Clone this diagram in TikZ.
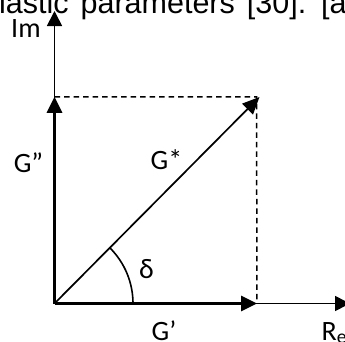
\documentclass[tikz,border=0pt]{standalone}
\usepackage{fontspec}
\setmainfont{Liberation Sans}
\newfontfamily\calfont{Carlito}
\newfontfamily\arifont{Liberation Sans}
\usetikzlibrary{arrows.meta}
\tikzset{
  axisline/.style={line width=1.7pt,-{Triangle[length=15pt,width=15pt]}},
  vecthick/.style={line width=2.9pt,-{Triangle[length=16pt,width=15pt]}},
  vecthin/.style={line width=1.7pt,-{Triangle[length=17pt,width=15pt]}},
  guide/.style={line width=1.5pt,dash pattern=on 5.5pt off 4pt},
  anglearc/.style={line width=1.6pt},
  cal/.style={inner sep=0pt,anchor=base west,font=\calfont\fontsize{28pt}{30pt}\selectfont}
}
\begin{document}
\begin{tikzpicture}[x=1pt,y=-1pt]
\useasboundingbox (0,0) rectangle (345,341);
\begin{scope}
\clip (0,0) rectangle (345,341);
\fill[white] (0,0) rectangle (345,341);
% cut-off caption text at the top
\node[inner sep=0pt,anchor=base west,font=\arifont\fontsize{30.5pt}{32pt}\selectfont] (cap) at (-1,13) {\spaceskip=12pt lastic parameters [30]. [a};
\coordinate (O) at (54.5,303.5);
\coordinate (Imtip) at (54.5,11);
\coordinate (Gpp) at (54.5,96.8);
\coordinate (Gp) at (257,303.5);
\coordinate (Retip) at (350,303.5);
\coordinate (P) at (256.5,96.8);
\coordinate (Gs) at (259.5,97);
% axes
\draw[axisline] (O) -- (Imtip);
\draw[axisline] (O) -- (Retip);
% guides
\draw[guide] (Gpp) -- (P) -- (Gp);
% vectors
\draw[vecthick] (O) -- (Gpp);
\draw[vecthick] (O) -- (Gp);
\draw[vecthin] (O) -- (Gs);
% angle
\draw[anglearc] (O) ++(78.5,0) arc[start angle=0,end angle=-45,radius=78.5];
% labels
\node[cal] (Im) at (11,37.5) {Im};
\node[cal] (Gpplab) at (13.6,172) {G”};
\node[cal] (Gslab) at (150.5,169) {G*};
\node[cal] (dlab) at (139,278) {δ};
\node[cal] (Gplab) at (151.5,340) {G’};
\node[cal] (Relab) at (321.5,340) {R\textsubscript{e}};
\end{scope}
\end{tikzpicture}
\end{document}
